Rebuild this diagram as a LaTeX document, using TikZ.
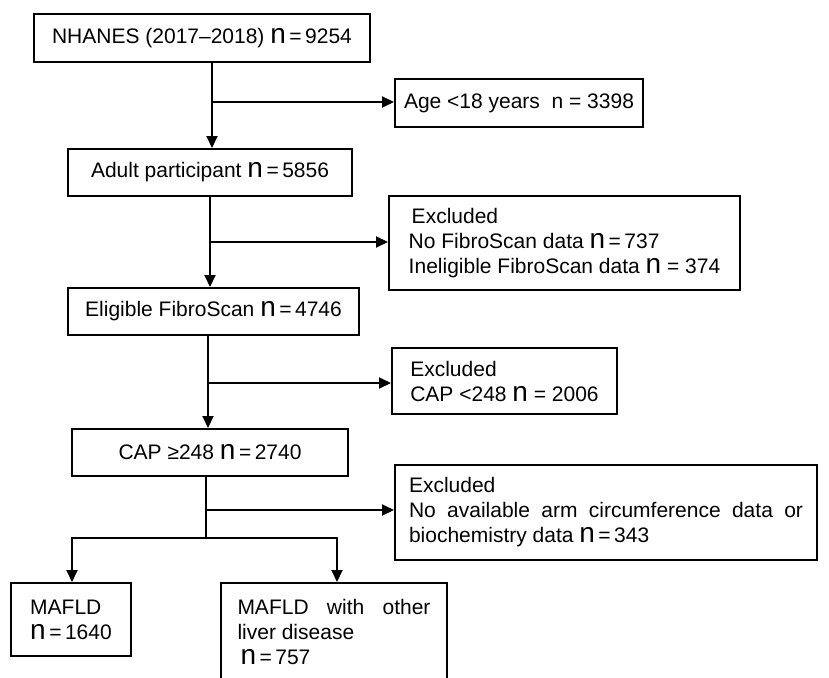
\documentclass[tikz,border=0pt]{standalone}
\usepackage{fontspec}
\setmainfont{Liberation Sans}
\usetikzlibrary{arrows.meta}
\newcommand\bn{{\fontsize{28}{25}\selectfont n}}
\begin{document}
\begin{tikzpicture}[x=1pt,y=-1pt,
  box/.style={draw, line width=2pt, inner sep=0pt, font=\fontsize{21}{25}\selectfont, align=left},
  cbox/.style={box, align=center},
  arr/.style={line width=2pt, -{Triangle[length=12pt,width=11pt]}},
  ln/.style={line width=2pt}]
\useasboundingbox (0,0) rectangle (829,677);
\clip (0,0) rectangle (829,677);
% main column
\node[cbox, minimum width=336pt, minimum height=48pt] (n1) at (202,38) {NHANES (2017–2018) \bn\,=\,9254};
\node[cbox, minimum width=284pt, minimum height=47pt] (n2) at (210,172.5) {Adult participant \bn\,=\,5856};
\node[cbox, minimum width=291pt, minimum height=47pt] (n3) at (213.5,311.5) {Eligible FibroScan \bn\,=\,4746};
\node[cbox, minimum width=276pt, minimum height=47pt] (n4) at (210,452.5) {CAP ≥248 \bn\,=\,2740};
% exclusion boxes
\node[cbox, minimum width=248pt, minimum height=48pt] (age) at (519,103) {Age <18 years\ \ n = 3398};
\node[box, minimum width=351pt, minimum height=94pt] (ex1) at (564.5,243) {\hspace*{3pt}Excluded\\No FibroScan data \bn\,=\,737\\Ineligible FibroScan data \bn{} = 374};
\node[box, minimum width=225pt, minimum height=66pt] (ex2) at (504.5,381) {Excluded\\CAP <248 \bn{} = 2006};
\node[box, minimum width=422pt, minimum height=95pt] (ex3) at (606,512.5) {Excluded\\\makebox[394pt][s]{No available arm circumference data or}\\biochemistry data \bn\,=\,343};
% outcome boxes
\node[box, minimum width=120pt, minimum height=73pt] (m1) at (71,619.5) {MAFLD\\\bn\,=\,1640};
\node[box, minimum width=226pt, minimum height=98pt] (m2) at (334,632) {\makebox[193pt][s]{MAFLD with other}\\liver disease\\\hspace*{3pt}\bn\,=\,757};
% trunk points
\coordinate (t1) at (212,102);
\coordinate (t2) at (210,242);
\coordinate (t3) at (208,383);
\coordinate (t4) at (206,510);
\coordinate (s) at (206,538);
% connectors
\draw[arr] (t1 |- n1.south) -- (t1 |- n2.north);
\draw[arr] (t1) -- (t1 -| age.west);
\draw[arr] (t2 |- n2.south) -- (t2 |- n3.north);
\draw[arr] (t2) -- (t2 -| ex1.west);
\draw[arr] (t3 |- n3.south) -- (t3 |- n4.north);
\draw[arr] (t3) -- (t3 -| ex2.west);
\draw[ln] (t4 |- n4.south) -- (s);
\draw[arr] (t4) -- (t4 -| ex3.west);
\draw[arr] (s) -| ([xshift=1pt]m1.north);
\draw[arr] (s) -| ([xshift=3pt]m2.north);
\end{tikzpicture}
\end{document}
